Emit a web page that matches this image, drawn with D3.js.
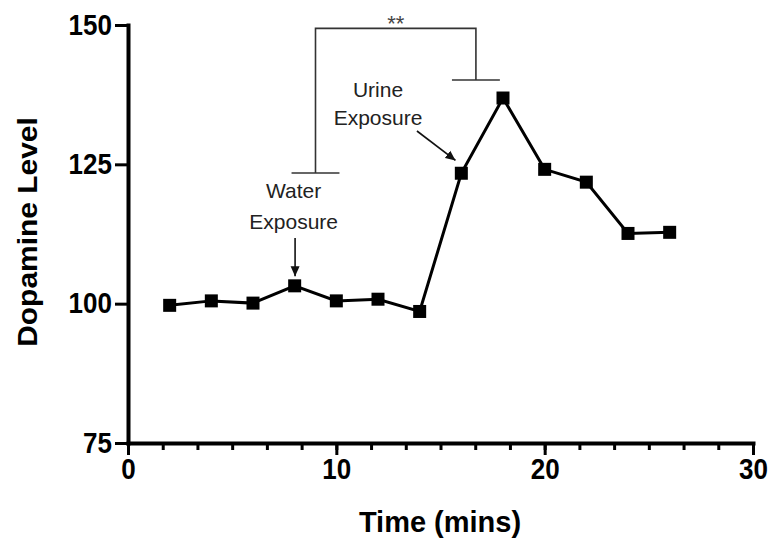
<!DOCTYPE html>
<html>
<head>
<meta charset="utf-8">
<script src="https://cdn.jsdelivr.net/npm/d3@7"></script>
<style>
  body { margin: 0; background: #fff; }
  svg { display: block; font-family: "Liberation Sans", Arial, sans-serif; }
</style>
</head>
<body>
<svg id="chart" width="771" height="540"></svg>
<script>
// data
const times = [2, 4, 6, 8, 10, 12, 14, 16, 18, 20, 22, 24, 26];
const dopamine = [99.7, 100.5, 100.1, 103.2, 100.5, 100.8, 98.6, 123.4, 136.9, 124.1, 121.8, 112.6, 112.8];
const xTicks = [0, 10, 20, 30];
const yTicks = [75, 100, 125, 150];

// significance bracket (data coords)
const bracketX = [9.0, 16.7];
const bracketCapY = [123.45, 140.14];
const bracketTopY = 149.4;
const bracketCapHalf = 1.15;
const starsLabel = '**';

// exposure annotations (data coords)
const waterText = ['Water', 'Exposure'];
const waterTextPos = {x: 7.95, y: [118.96, 113.4]};
const waterArrow = [[8.02, 111.8], [8.02, 104.9]];
const urineText = ['Urine', 'Exposure'];
const urineTextPos = {x: 12.0, y: [137.09, 132.06]};
const urineArrow = [[13.87, 130.98], [15.72, 125.7]];

const svg = d3.select('#chart');

const x = d3.scaleLinear().domain([0, 30]).range([128, 753]);
const y = d3.scaleLinear().domain([75, 150]).range([443, 25]);

svg.append('defs').append('marker')
    .attr('id', 'head')
    .attr('viewBox', '0 0 10 10')
    .attr('refX', 10).attr('refY', 5)
    .attr('markerWidth', 10).attr('markerHeight', 10)
    .attr('markerUnits', 'userSpaceOnUse')
    .attr('orient', 'auto')
    .append('path')
    .attr('d', 'M0,0.5 L10,5 L0,9.5 Z')
    .attr('fill', '#111');

// minor x ticks
svg.append('g')
    .attr('transform', `translate(0,${y(75)})`)
    .call(d3.axisBottom(x).tickValues(d3.range(0, 30.01, 10 / 6)).tickSize(7).tickFormat(''))
    .call(g => g.select('.domain').remove())
    .selectAll('line').attr('stroke', '#000').attr('stroke-width', 3);

// x axis
const xAxis = svg.append('g')
    .attr('transform', `translate(0,${y(75)})`)
    .call(d3.axisBottom(x).tickValues(xTicks).tickSize(12).tickSizeOuter(0).tickPadding(2));

// y axis
const yAxis = svg.append('g')
    .attr('transform', `translate(${x(0)},0)`)
    .call(d3.axisLeft(y).tickValues(yTicks).tickSize(13).tickSizeOuter(0).tickPadding(3));

[xAxis, yAxis].forEach(a => {
    a.select('.domain').attr('stroke', '#000').attr('stroke-width', 4).attr('stroke-linecap', 'square');
    a.selectAll('.tick line').attr('stroke', '#000').attr('stroke-width', 3);
    a.selectAll('.tick text')
        .attr('fill', '#000')
        .attr('transform', 'scale(1,1.1)')
        .style('font-size', '26px')
        .style('font-weight', 'bold')
        .style('font-family', '"Liberation Sans", Arial, sans-serif');
});

// axis titles
svg.append('text')
    .attr('x', 440).attr('y', 532)
    .attr('text-anchor', 'middle')
    .style('font-size', '29px').style('font-weight', 'bold')
    .text('Time (mins)');

svg.append('text')
    .attr('transform', 'translate(37,232) scale(1,1.07) rotate(-90)')
    .attr('text-anchor', 'middle')
    .style('font-size', '28px').style('font-weight', 'bold')
    .text('Dopamine Level');

// bracket
const bracket = svg.append('g').attr('stroke', '#333').attr('stroke-width', 1.6).attr('fill', 'none');
bracket.append('path')
    .attr('d', d3.line()([
        [x(bracketX[0]), y(bracketCapY[0])],
        [x(bracketX[0]), y(bracketTopY)],
        [x(bracketX[1]), y(bracketTopY)],
        [x(bracketX[1]), y(bracketCapY[1])]
    ]));
bracket.selectAll('.cap')
    .data(bracketX)
    .enter()
    .append('line')
    .attr('class', 'cap')
    .attr('x1', d => x(d - bracketCapHalf))
    .attr('x2', d => x(d + bracketCapHalf))
    .attr('y1', (d, i) => y(bracketCapY[i]))
    .attr('y2', (d, i) => y(bracketCapY[i]));

svg.append('text')
    .attr('x', x(d3.mean(bracketX))).attr('y', y(bracketTopY) + 3)
    .attr('text-anchor', 'middle')
    .attr('fill', '#444')
    .style('font-size', '22px')
    .text(starsLabel);

// annotation labels + arrows
[[waterText, waterTextPos, waterArrow], [urineText, urineTextPos, urineArrow]].forEach(([lines, pos, arrow]) => {
    svg.append('g')
        .selectAll('text')
        .data(lines)
        .enter()
        .append('text')
        .attr('x', x(pos.x))
        .attr('y', (d, i) => y(pos.y[i]))
        .attr('text-anchor', 'middle')
        .attr('fill', '#222')
        .style('font-size', '21px')
        .text(d => d);

    svg.append('path')
        .attr('d', d3.line()(arrow.map(([a, b]) => [x(a), y(b)])))
        .attr('stroke', '#111')
        .attr('stroke-width', 1.6)
        .attr('fill', 'none')
        .attr('marker-end', 'url(#head)');
});

// series
const series = times.map((t, i) => ({t, v: dopamine[i]}));

svg.append('path')
    .datum(series)
    .attr('d', d3.line().x(d => x(d.t)).y(d => y(d.v)))
    .attr('stroke', '#000')
    .attr('stroke-width', 3)
    .attr('fill', 'none');

const size = 13;
svg.selectAll('.pt')
    .data(series)
    .enter()
    .append('rect')
    .attr('class', 'pt')
    .attr('x', d => x(d.t) - size / 2)
    .attr('y', d => y(d.v) - size / 2)
    .attr('width', size)
    .attr('height', size)
    .attr('fill', '#000');
</script>
</body>
</html>
